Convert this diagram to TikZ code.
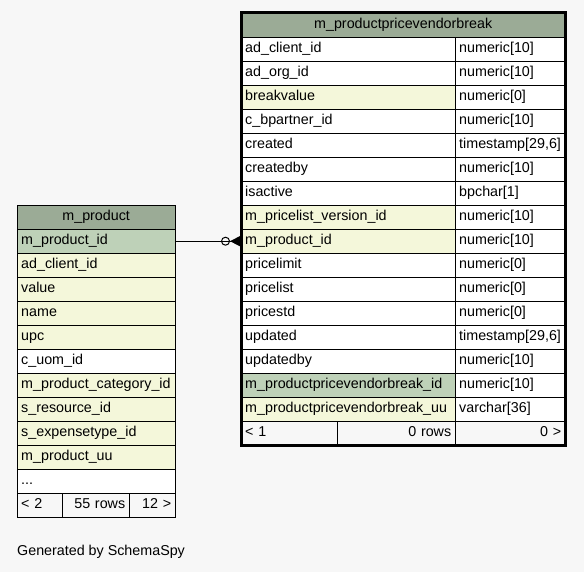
\documentclass[tikz,border=0pt]{standalone}
\usepackage{fontspec}
\setmainfont{Liberation Sans}
\usetikzlibrary{arrows.meta}
\definecolor{pagebg}{HTML}{F7F7F7}
\definecolor{headbg}{HTML}{9BAB96}
\definecolor{pkbg}{HTML}{BED1B8}
\definecolor{idxbg}{HTML}{F4F7DA}
\newcommand{\morecols}{...}
\tikzset{
  cell/.style={
    draw,
    shape = rectangle,
    anchor = north west,
    inner xsep = 4pt,
    inner ysep = 0pt,
    minimum height = 24pt,
    text height = 10.5pt,
    text depth = 3pt,
    align = left,
    font = \fontsize{14.3}{16}\selectfont
  },
  headcell/.style={
    cell,
    fill = headbg,
    align = center
  },
  footcell/.style={
    cell,
    fill = pagebg
  },
  fk/.style={
    line width = 1pt,
    -{Circle[open,length=9pt,width=9pt,sep=0pt]Triangle[reversed,length=10pt,width=10pt]}
  }
}
\begin{document}
\begin{tikzpicture}[x=1pt,y=-1pt]
  \fill[pagebg] (0,0) rectangle (584,572);
  % m_product
  \node[headcell, text width=150pt] (lhead) at (17,205) {m\_product};
  \foreach \name/\fillc [count=\i] in {m\_product\_id/pkbg, ad\_client\_id/idxbg,
      value/idxbg, name/idxbg, upc/idxbg, c\_uom\_id/white,
      m\_product\_category\_id/idxbg, s\_resource\_id/idxbg,
      s\_expensetype\_id/idxbg, m\_product\_uu/idxbg, \morecols/white}{
    \node[cell, fill=\fillc, text width=150pt] (l\i) at (17,{205+24*\i}) {\name};
  }
  \node[footcell, text width=37pt] (lf1) at (17,493) {< 2};
  \node[footcell, text width=59pt, align=right] (lf2) at (62,493) {55 rows};
  \node[footcell, text width=38pt, align=right] (lf3) at (129,493) {12 >};
  % m_productpricevendorbreak
  \node[headcell, text width=316pt] (rhead) at (241,13) {m\_productpricevendorbreak};
  \foreach \name/\fillc/\type [count=\i] in {
      ad\_client\_id/white/numeric[10], ad\_org\_id/white/numeric[10],
      breakvalue/idxbg/numeric[0], c\_bpartner\_id/white/numeric[10],
      created/white/{timestamp[29,6]}, createdby/white/numeric[10],
      isactive/white/bpchar[1], m\_pricelist\_version\_id/idxbg/numeric[10],
      m\_product\_id/idxbg/numeric[10], pricelimit/white/numeric[0],
      pricelist/white/numeric[0], pricestd/white/numeric[0],
      updated/white/{timestamp[29,6]}, updatedby/white/numeric[10],
      m\_productpricevendorbreak\_id/pkbg/numeric[10],
      m\_productpricevendorbreak\_uu/idxbg/varchar[36]}{
    \node[cell, fill=\fillc, text width=206pt] (r\i) at (241,{13+24*\i}) {\name};
    \node[cell, fill=white, text width=102pt] (t\i) at (455,{13+24*\i}) {\type};
  }
  \node[footcell, text width=88pt] (rf1) at (241,421) {< 1};
  \node[footcell, text width=110pt, align=right] (rf2) at (337,421) {0 rows};
  \node[footcell, text width=102pt, align=right] (rf3) at (455,421) {0 >};
  \draw[line width=3pt] (rhead.north west) rectangle (rf3.south east);
  \draw[fk] (l1.east) -- ([xshift=-1pt]r9.west);
  \node[anchor=west, inner sep=0pt, font=\fontsize{14.3}{16}\selectfont] (gen) at (17,552) {Generated by SchemaSpy};
\end{tikzpicture}
\end{document}
